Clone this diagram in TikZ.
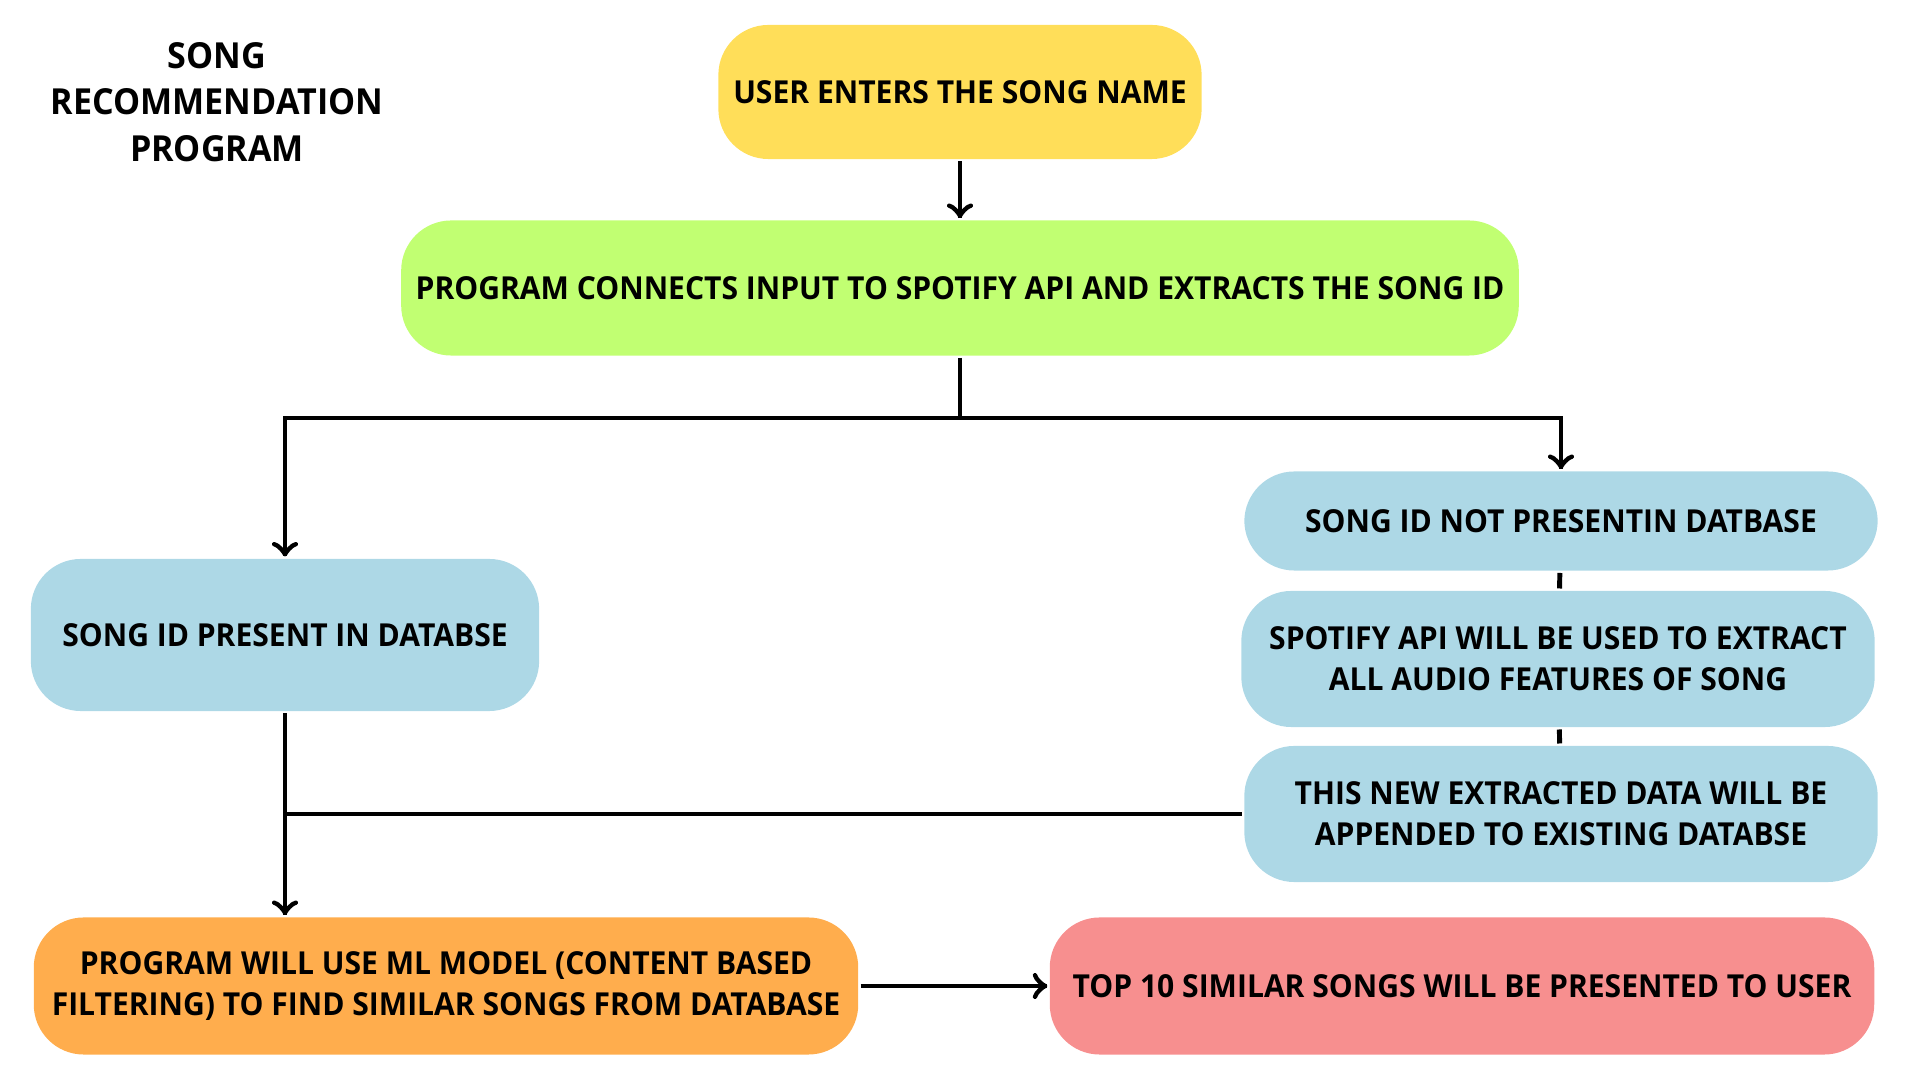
\documentclass[tikz,border=0pt]{standalone}
\usepackage{fontspec}
\setmainfont[FakeStretch=0.95]{Open Sans}
\usetikzlibrary{calc,decorations.markings}
\definecolor{yellowbox}{HTML}{FFDE59}
\definecolor{greenbox}{HTML}{C1FF72}
\definecolor{bluebox}{HTML}{ADD8E6}
\definecolor{orangebox}{HTML}{FFAD4D}
\definecolor{redbox}{HTML}{F78F8F}
\tikzset{arr/.style = {decoration={markings, mark=at position 1 with {\arrow[scale=1.1]{to}}}, postaction={decorate}}}
\tikzset{box/.style = {rounded corners = 0.5cm, inner sep = 0, align = center, font = \fontsize{9}{11.6}\selectfont\bfseries}}

\begin{document}
\begin{tikzpicture}[x = 0.01cm, y = -0.01cm, line width = 1.4pt]
    \useasboundingbox (0,0) rectangle (1920,1080);
    \node [align = center, font = \fontsize{10.2}{13.3}\selectfont\bfseries] (title) at (217,102) {SONG\\RECOMMENDATION\\PROGRAM};
    \node [box, fill = yellowbox, minimum width = 4.83cm, minimum height = 1.34cm] (user) at (960,92) {USER ENTERS THE SONG NAME};
    \node [box, fill = greenbox, minimum width = 11.17cm, minimum height = 1.35cm] (api) at (960,288) {PROGRAM CONNECTS INPUT TO SPOTIFY API AND EXTRACTS THE SONG ID};
    \node [box, fill = bluebox, minimum width = 5.08cm, minimum height = 1.52cm] (present) at (285,635) {SONG ID PRESENT IN DATABSE};
    \node [box, fill = bluebox, minimum width = 6.33cm, minimum height = 0.99cm] (absent) at (1561,521) {SONG ID NOT PRESENTIN DATBASE};
    \node [box, fill = bluebox, minimum width = 6.33cm, minimum height = 1.36cm] (features) at (1558,659) {SPOTIFY API WILL BE USED TO EXTRACT\\ALL AUDIO FEATURES OF SONG};
    \node [box, fill = bluebox, minimum width = 6.33cm, minimum height = 1.36cm] (append) at (1561,814) {THIS NEW EXTRACTED DATA WILL BE\\APPENDED TO EXISTING DATABSE};
    \node [box, fill = orangebox, minimum width = 8.24cm, minimum height = 1.37cm] (model) at (446,986) {PROGRAM WILL USE ML MODEL (CONTENT BASED\\FILTERING) TO FIND SIMILAR SONGS FROM DATABASE};
    \node [box, fill = redbox, minimum width = 8.24cm, minimum height = 1.37cm] (top) at (1462,986) {TOP 10 SIMILAR SONGS WILL BE PRESENTED TO USER};
    \draw [arr] (user) -- (api);
    \draw (api.south) -- ++(0,60) coordinate (split);
    \draw [arr] (split) -| (present.north);
    \draw [arr] (split) -| (absent.north);
    \draw (absent) -- (features);
    \draw (features) -- (append);
    \draw [arr] (present.south) -- (present.south |- model.north);
    \draw (append.west) -- (append.west -| present.south);
    \draw [arr] (model) -- (top);
\end{tikzpicture}
\end{document}
